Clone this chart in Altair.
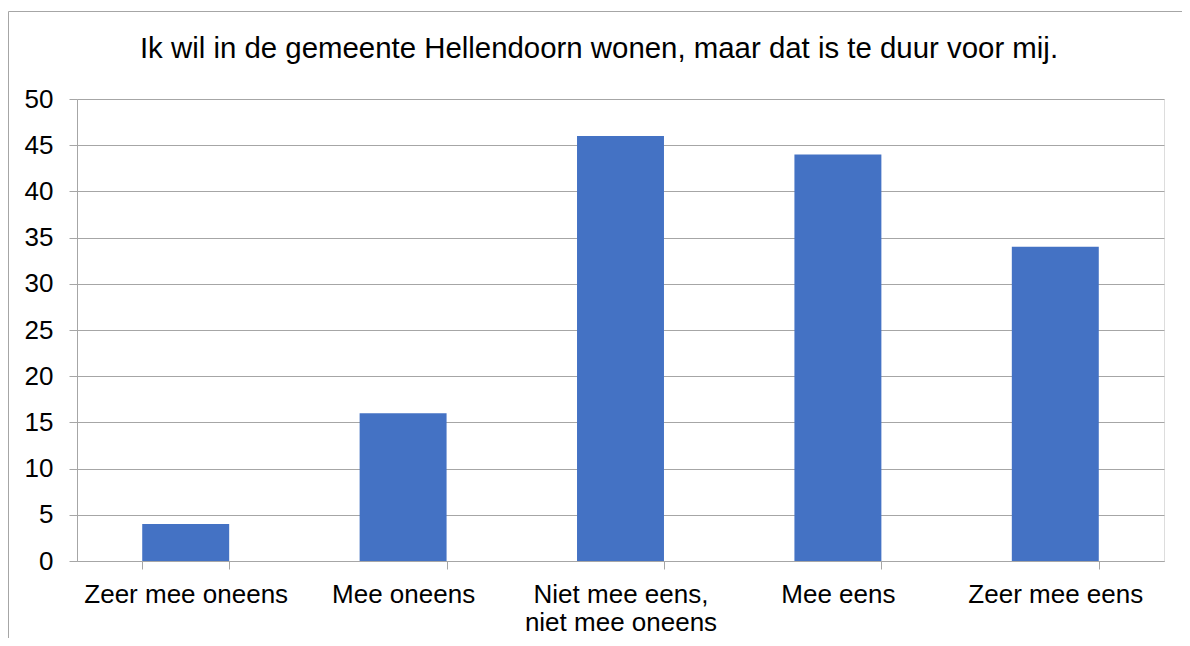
import altair as alt
import pandas as pd

categories = ["Zeer mee oneens", "Mee oneens", "Niet mee eens, niet mee oneens", "Mee eens", "Zeer mee eens"]
values = [4, 16, 46, 44, 34]
title_text = "Ik wil in de gemeente Hellendoorn wonen, maar dat is te duur voor mij."

df = pd.DataFrame({"cat": categories, "val": values})
FONT = "Liberation Sans"
GRAY = "#a6a6a6"

W, H = 1087, 462

bars = alt.Chart(df).mark_bar(color="#4472C4").encode(
    x=alt.X("cat:N", sort=categories, title=None,
            scale=alt.Scale(paddingInner=0.6, paddingOuter=0.3),
            axis=alt.Axis(labelAngle=0, labelFont=FONT, labelFontSize=26, labelColor="black",
                          labelLimit=0, labelOverlap=False, labelPadding=12, labelLineHeight=28,
                          labelExpr="split(replace(datum.label, ', ', ',|'), '|')",
                          ticks=True, tickBand="extent", tickSize=8, tickColor=GRAY,
                          tickWidth=1, domainColor=GRAY, grid=False)),
    y=alt.Y("val:Q", title=None,
            scale=alt.Scale(domain=[0, 50], nice=False),
            axis=alt.Axis(values=list(range(0, 51, 5)), labelFont=FONT, labelFontSize=26,
                          labelColor="black", labelPadding=16, ticks=True, tickSize=8,
                          tickColor=GRAY, domainColor=GRAY, gridColor=GRAY, grid=True)),
)

title = alt.Chart(pd.DataFrame({"t": [title_text]})).mark_text(
    font=FONT, fontSize=29.4, color="black", align="center", baseline="alphabetic"
).encode(text="t:N", x=alt.value(522), y=alt.value(-41))

border_left = alt.Chart(pd.DataFrame({"a": [0]})).mark_rule(color=GRAY, strokeWidth=1).encode(
    x=alt.value(-68.5), y=alt.value(-87.5), y2=alt.value(560))
border_top = alt.Chart(pd.DataFrame({"a": [0]})).mark_rule(color=GRAY, strokeWidth=1).encode(
    x=alt.value(-68.5), x2=alt.value(1120), y=alt.value(-87.5))

chart = alt.layer(bars, title, border_left, border_top).properties(
    width=W, height=H,
    autosize=alt.AutoSizeParams(type="none"),
    padding={"left": 69, "top": 91, "right": 18, "bottom": 77},
).configure_view(stroke=None).configure(background="white")

chart.save("out.html", embed_options={"renderer": "svg", "actions": False})
